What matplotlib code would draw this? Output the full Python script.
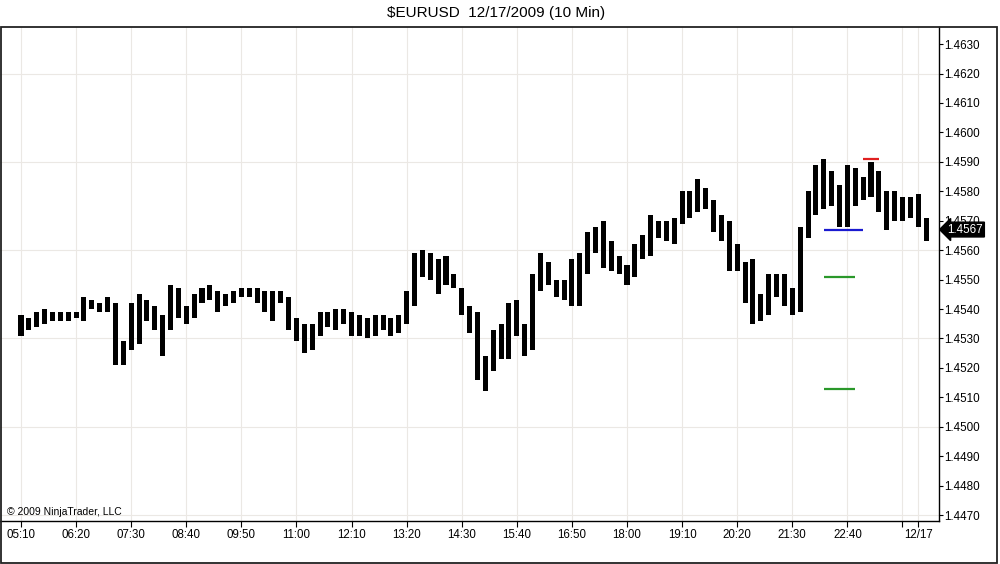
import numpy as np
import matplotlib.pyplot as plt
from matplotlib.patches import Rectangle

plt.rcParams['font.family'] = ['Liberation Sans', 'DejaVu Sans']

# 10 minute bars, 05:10 onwards (high / low)
highs = [
    1.4538, 1.4537, 1.4539, 1.4540, 1.4539, 1.4539, 1.4539, 1.4539, 1.4544, 1.4543,
    1.4542, 1.4544, 1.4542, 1.4529, 1.4542, 1.4545, 1.4543, 1.4541, 1.4538, 1.4548,
    1.4547, 1.4541, 1.4545, 1.4547, 1.4548, 1.4546, 1.4545, 1.4546, 1.4547, 1.4547,
    1.4547, 1.4546, 1.4546, 1.4546, 1.4544, 1.4537, 1.4535, 1.4535, 1.4539, 1.4539,
    1.4540, 1.4540, 1.4539, 1.4538, 1.4537, 1.4538, 1.4538, 1.4537, 1.4538, 1.4546,
    1.4559, 1.4560, 1.4559, 1.4557, 1.4558, 1.4552, 1.4547, 1.4541, 1.4539, 1.4524,
    1.4533, 1.4535, 1.4542, 1.4543, 1.4535, 1.4552, 1.4559, 1.4556, 1.4550, 1.4550,
    1.4557, 1.4559, 1.4566, 1.4568, 1.4570, 1.4563, 1.4558, 1.4555, 1.4562, 1.4565,
    1.4572, 1.4570, 1.4570, 1.4571, 1.4580, 1.4580, 1.4584, 1.4581, 1.4577, 1.4572,
    1.4570, 1.4562, 1.4556, 1.4557, 1.4545, 1.4552, 1.4552, 1.4552, 1.4547, 1.4568,
    1.4580, 1.4589, 1.4591, 1.4587, 1.4582, 1.4589, 1.4588, 1.4585, 1.4590, 1.4587,
    1.4580, 1.4580, 1.4578, 1.4578, 1.4579, 1.4571,
]
lows = [
    1.4531, 1.4533, 1.4534, 1.4535, 1.4536, 1.4536, 1.4536, 1.4537, 1.4536, 1.4540,
    1.4539, 1.4539, 1.4521, 1.4521, 1.4526, 1.4528, 1.4536, 1.4533, 1.4524, 1.4533,
    1.4537, 1.4535, 1.4537, 1.4542, 1.4543, 1.4539, 1.4541, 1.4542, 1.4544, 1.4544,
    1.4542, 1.4539, 1.4536, 1.4542, 1.4533, 1.4529, 1.4525, 1.4526, 1.4531, 1.4534,
    1.4533, 1.4535, 1.4531, 1.4531, 1.4530, 1.4531, 1.4533, 1.4531, 1.4532, 1.4535,
    1.4541, 1.4551, 1.4550, 1.4545, 1.4548, 1.4547, 1.4538, 1.4532, 1.4516, 1.4512,
    1.4519, 1.4523, 1.4523, 1.4531, 1.4524, 1.4526, 1.4546, 1.4548, 1.4544, 1.4543,
    1.4541, 1.4541, 1.4552, 1.4559, 1.4554, 1.4553, 1.4552, 1.4548, 1.4551, 1.4557,
    1.4558, 1.4564, 1.4563, 1.4562, 1.4569, 1.4571, 1.4573, 1.4574, 1.4566, 1.4563,
    1.4553, 1.4553, 1.4542, 1.4535, 1.4536, 1.4538, 1.4544, 1.4541, 1.4538, 1.4539,
    1.4564, 1.4572, 1.4574, 1.4575, 1.4568, 1.4568, 1.4575, 1.4577, 1.4578, 1.4573,
    1.4567, 1.4570, 1.4570, 1.4571, 1.4568, 1.4563,
]
last_price = 1.4567

time_labels = ["05:10", "06:20", "07:30", "08:40", "09:50", "11:00", "12:10", "13:20",
               "14:30", "15:40", "16:50", "18:00", "19:10", "20:20", "21:30", "22:40"]

# drawn levels: (price, first bar, last bar, colour)
levels = [
    (1.4591, 107, 109, "#e02020"),
    (1.4567, 102, 107, "#1a1ad0"),
    (1.4551, 102, 106, "#2a982a"),
    (1.4513, 102, 106, "#2a982a"),
]

highs = np.array(highs)
lows = np.array(lows)
x = np.arange(len(highs))

fig = plt.figure(figsize=(10, 5.64), dpi=100)
ax = fig.add_axes([0.0, 1 - 520.7 / 564, 0.939, (520.7 - 27) / 564])

# grid
for i in list(range(0, 106, 7)) + [112, 114]:
    ax.axvline(i, color="#ebe8e4", lw=0.8, zorder=0)
for p in np.arange(1.4470, 1.4631, 0.0030):
    ax.axhline(p, color="#ebe8e4", lw=0.8, zorder=0)

ax.bar(x, highs - lows, bottom=lows, width=0.64, color="black", zorder=3)

for price, a, b, c in levels:
    ax.hlines(price, a, b, color=c, lw=1.6, zorder=4)

ax.set_xlim(-2.668, 116.64)
ax.set_ylim(1.44681, 1.46358)

ax.set_xticks(list(range(0, 106, 7)) + [112, 114])
ax.set_xticklabels(time_labels + ["", "12/17"])
ax.set_yticks(np.arange(1.4470, 1.4631, 0.0010))
ax.set_yticklabels(["%.4f" % v for v in np.arange(1.4470, 1.4631, 0.0010)])
ax.yaxis.tick_right()
ax.tick_params(axis="y", length=3, width=0.8, labelsize=8.4, pad=1, colors="black")
ax.tick_params(axis="x", length=4, width=0.8, labelsize=8.3, pad=2)

ax.spines["top"].set_visible(False)
ax.spines["left"].set_visible(False)
ax.spines["right"].set_linewidth(1.0)
ax.spines["bottom"].set_linewidth(1.0)

# last price marker
ax.annotate("%.4f" % last_price, xy=(1.0, last_price), xycoords=("axes fraction", "data"),
            xytext=(6, 0), textcoords="offset points", va="center", ha="left",
            fontsize=8.4, color="white",
            bbox=dict(boxstyle="larrow,pad=0.12", fc="black", ec="black"),
            annotation_clip=False, zorder=6)

ax.text(0.007, 0.008, "\u00a9 2009 NinjaTrader, LLC", transform=ax.transAxes,
        fontsize=7.5, ha="left", va="bottom")

fig.text(0.496, 1 - 12.5 / 564, "$EURUSD  12/17/2009 (10 Min)", ha="center", va="center",
         fontsize=11)

# outer frame
fig.patches.append(Rectangle((0.0008, 0.002), 0.9965, 1 - 27 / 564 - 0.002,
                             transform=fig.transFigure, fill=False,
                             ec="#222222", lw=1.3))

fig.savefig("out.png", dpi=100)
